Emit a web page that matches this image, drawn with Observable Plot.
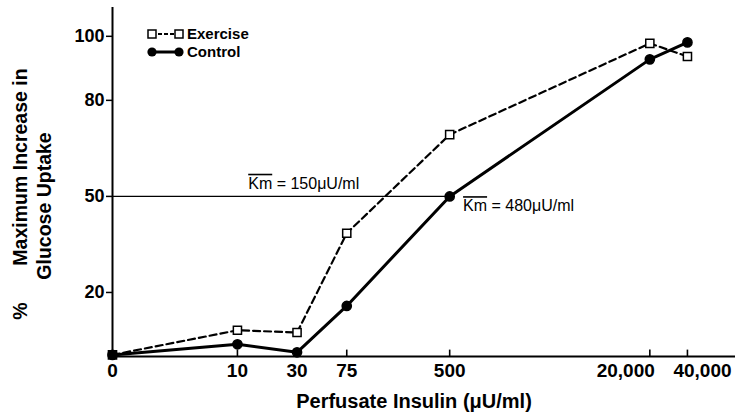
<!DOCTYPE html>
<html><head><meta charset="utf-8">
<script src="https://cdn.jsdelivr.net/npm/d3@7"></script>
<script src="https://cdn.jsdelivr.net/npm/@observablehq/plot@0.6"></script>
<style>
body{margin:0;background:#fff;}
#wrap{position:relative;width:739px;height:414px;}
</style></head><body><div id="wrap"></div>
<script>
// x values: 1 stands for "0" on the log axis
const insulin = [1, 10, 30, 75, 500, 20000, 40000];
const insulinLabels = ["0", "10", "30", "75", "500", "20,000", "40,000"];
const exercise = [0.5, 8.2, 7.5, 38.5, 69.3, 97.8, 93.7];
const control = [0.5, 3.8, 1.3, 15.8, 50, 92.8, 98.1];
const yTicks = [20, 50, 80, 100];
const seriesNames = ["Exercise", "Control"];
const kmLevel = 50;
const kmLabels = ["Km = 150μU/ml", "Km = 480μU/ml"];

const font = "'Liberation Sans', Arial, Helvetica, sans-serif";
const exRows = insulin.map((x, i) => ({x, y: exercise[i]}));
const ctRows = insulin.map((x, i) => ({x, y: control[i]}));
const tickRows = insulin.map((x, i) => ({x, label: insulinLabels[i], y1: 0, y2: 2}));
const tickText = {x: "x", y: "y1", text: "label", dy: 14, fontSize: 19, fontWeight: "bold"};

const chart = Plot.plot({
  width: 739, height: 414,
  marginLeft: 112, marginRight: 4, marginTop: 7, marginBottom: 58,
  style: {fontFamily: font, color: "#000", background: "#fff", overflow: "visible"},
  x: {type: "log", domain: [1, 97000], axis: null},
  y: {domain: [0, 109], axis: null},
  marks: [
    Plot.text(tickRows.slice(0, 5), {...tickText, textAnchor: "middle"}),
    Plot.text(tickRows.slice(5, 6), {...tickText, textAnchor: "end", dx: 5}),
    Plot.text(tickRows.slice(6), {...tickText, textAnchor: "start", dx: -14}),
    Plot.axisY(yTicks, {tickSize: 6, tickPadding: 2, strokeWidth: 1.5, fontSize: 18, fontWeight: "bold", label: null}),
    Plot.ruleX(tickRows.slice(1), {x: "x", y1: "y1", y2: "y2", stroke: "#000", strokeWidth: 1.6}),
    Plot.ruleX([insulin[0]], {strokeWidth: 2}),
    Plot.ruleY([0], {strokeWidth: 2}),
    Plot.ruleY([kmLevel], {x1: insulin[0], x2: insulin[4], strokeWidth: 1.2}),
    Plot.text([kmLabels[0]], {text: d => d, x: 12.2, y: 54, textAnchor: "start", fontSize: 16, fontWeight: "normal"}),
    Plot.text([kmLabels[1]], {text: d => d, x: 640, y: 47, textAnchor: "start", fontSize: 16, fontWeight: "normal"}),
    Plot.line(exRows, {x: "x", y: "y", stroke: "#000", strokeWidth: 2.2, strokeDasharray: "7,4"}),
    Plot.line(ctRows, {x: "x", y: "y", stroke: "#000", strokeWidth: 3}),
    Plot.dot(exRows, {x: "x", y: "y", symbol: "square", r: 4.6, fill: "#fff", stroke: "#000", strokeWidth: 1.5}),
    Plot.dot(ctRows, {x: "x", y: "y", r: 4.6, fill: "#000", stroke: "#000"})
  ]
});
document.getElementById("wrap").appendChild(chart);

const svg = d3.select(chart);
// overline on "Km"
svg.selectAll("text").each(function() {
  const t = this.textContent;
  if (t.startsWith("Km")) {
    const el = d3.select(this);
    el.text(null);
    el.append("tspan").style("text-decoration", "overline").text("Km");
    el.append("tspan").text(t.slice(2));
  }
});

const titleStyle = (s, size) => s.attr("font-family", font).attr("font-size", size).attr("font-weight", "bold").attr("fill", "#000");
svg.append("text").call(titleStyle, 20).attr("text-anchor", "middle")
  .attr("x", 414).attr("y", 408).text("Perfusate Insulin (μU/ml)");
svg.append("text").call(titleStyle, 19.5).attr("text-anchor", "middle")
  .attr("transform", "translate(27,167) rotate(-90)").text("Maximum Increase in");
svg.append("text").call(titleStyle, 19.5).attr("text-anchor", "middle")
  .attr("transform", "translate(51,206) rotate(-90)").text("Glucose Uptake");
svg.append("text").call(titleStyle, 19.5).attr("text-anchor", "middle")
  .attr("transform", "translate(27,311) rotate(-90)").text("%");

// legend
const lg = svg.append("g");
seriesNames.forEach((name, i) => {
  const y = 34 + i * 18;
  lg.append("line").attr("x1", 152).attr("x2", 179).attr("y1", y).attr("y2", y)
    .attr("stroke", "#000").attr("stroke-width", i === 0 ? 2 : 3)
    .attr("stroke-dasharray", i === 0 ? "4,2" : null);
  [152, 179].forEach(cx => {
    if (i === 0) {
      lg.append("rect").attr("x", cx - 4).attr("y", y - 4).attr("width", 8).attr("height", 8)
        .attr("fill", "#fff").attr("stroke", "#000").attr("stroke-width", 1.5);
    } else {
      lg.append("circle").attr("cx", cx).attr("cy", y).attr("r", 4.6).attr("fill", "#000");
    }
  });
  lg.append("text").attr("x", 187).attr("y", y + 5).attr("text-anchor", "start").attr("font-family", font)
    .attr("font-size", 15).attr("font-weight", "bold").attr("fill", "#000").text(name);
});
</script></body></html>
